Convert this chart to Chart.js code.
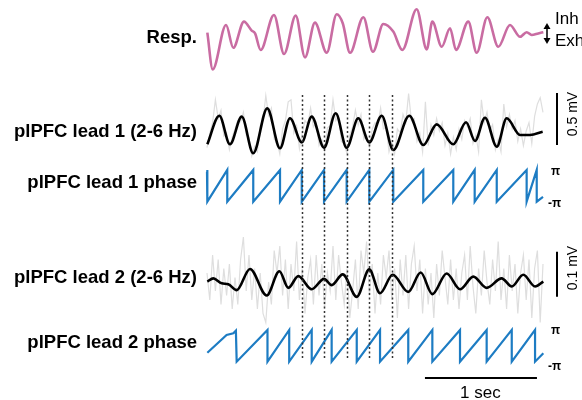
<!DOCTYPE html>
<html>
<head>
<meta charset="utf-8">
<script src="https://cdn.jsdelivr.net/npm/chart.js@4.4.1/dist/chart.umd.min.js"></script>
<style>
  body { margin: 0; background: #fff; }
  #wrap { position: relative; width: 582px; height: 400px; overflow: hidden;
          font-family: "Liberation Sans", Arial, sans-serif; color: #000; }
  #wrap canvas { position: absolute; left: 0; top: 0; }
  .lbl { position: absolute; right: 385px; font-weight: bold; font-size: 18.5px;
         line-height: 1; white-space: nowrap; transform: translateY(-50%); }
  .txt { position: absolute; font-size: 17px; line-height: 1; white-space: nowrap; }
  .pi { position: absolute; font-weight: bold; font-size: 12px; line-height: 1; }
  .rot { position: absolute; font-size: 14px; line-height: 1; white-space: nowrap;
         transform: translate(-50%, -50%) rotate(-90deg); }
</style>
</head>
<body>
<div id="wrap">
  <canvas id="myChart" width="582" height="400"></canvas>
  <div class="lbl" style="top:37px">Resp.</div>
  <div class="lbl" style="top:131px">plPFC lead 1 (2-6 Hz)</div>
  <div class="lbl" style="top:182px">plPFC lead 1 phase</div>
  <div class="lbl" style="top:277px">plPFC lead 2 (2-6 Hz)</div>
  <div class="lbl" style="top:342px">plPFC lead 2 phase</div>
  <div class="txt" style="left:555px;top:10px">Inh</div>
  <div class="txt" style="left:555px;top:32px">Exh</div>
  <div class="rot" style="left:572px;top:114px">0.5 mV</div>
  <div class="rot" style="left:572px;top:268px">0.1 mV</div>
  <div class="pi" style="left:551px;top:165px">π</div>
  <div class="pi" style="left:548px;top:197px">-π</div>
  <div class="pi" style="left:551px;top:324px">π</div>
  <div class="pi" style="left:548px;top:360px">-π</div>
  <div class="txt" style="left:460px;top:384px">1 sec</div>
</div>
<script>
// respiration (a.u.), extrema
const respT = [0.003, 0.051, 0.170, 0.235, 0.330, 0.399, 0.429, 0.479, 0.598, 0.688, 0.792, 0.875, 0.964,
  1.069, 1.158, 1.212, 1.277, 1.396, 1.482, 1.574, 1.663, 1.744, 1.872, 1.962, 2.012, 2.096, 2.170,
  2.223, 2.333, 2.408, 2.503, 2.601, 2.705, 2.795, 2.854, 2.899, 2.958, 3.003];
const respV = [0.02, -1.82, 0.40, -0.74, 0.57, 0.12, -0.02, -0.85, 0.90, -1.05, 0.87, -1.22, 0.52,
  -0.99, 0.94, 0.49, -0.99, 0.79, -0.94, 0.45, 0.07, -0.85, 1.19, -0.82, 0.57, -0.69, 0.24,
  -0.85, 0.57, -0.99, 0.79, -0.69, 0.40, -0.19, 0.04, -0.10, -0.02, 0.04];

// lead 1, 2-6 Hz filtered (mV)
const lead1T = [0.003, 0.110, 0.205, 0.310, 0.413, 0.538, 0.652, 0.741, 0.846, 0.935, 1.045, 1.149, 1.247,
  1.351, 1.449, 1.560, 1.663, 1.806, 1.931, 2.051, 2.199, 2.313, 2.393, 2.482, 2.587, 2.676, 2.795, 2.884, 2.997];
const lead1V = [-0.128, 0.147, -0.128, 0.138, -0.214, 0.218, -0.166, 0.122, -0.109, 0.138, -0.161, 0.170, -0.161,
  0.122, -0.109, 0.147, -0.183, 0.147, -0.135, 0.064, -0.128, 0.084, -0.096, 0.128, -0.151, 0.122, -0.038, -0.038, -0.007];

// raw traces (mV), one value every rawStep seconds
const rawStep = 0.025;
const lead1Raw = [
  -0.16, -0.02, 0.08, 0.30, 0.12, 0.20, -0.05, -0.02, -0.18, -0.06,
  0.02, 0.10, 0.09, 0.18, -0.04, -0.06, -0.24, -0.15, -0.20, 0.05,
  0.10, 0.34, 0.15, 0.22, -0.08, -0.10, -0.22, 0.02, 0.10, 0.28,
  0.30, -0.02, 0.05, -0.17, -0.02, 0.10, 0.06, 0.22, 0.04, 0.08,
  -0.14, -0.08, -0.20, 0.03, 0.05, 0.30, 0.10, 0.14, -0.10, -0.12,
  -0.22, -0.04, 0.04, 0.20, 0.06, 0.16, -0.08, -0.04, -0.16, 0.02,
  0.08, 0.06, 0.22, 0.02, 0.04, -0.20, -0.10, -0.22, 0.02, -0.02,
  0.16, 0.08, 0.36, 0.10, 0.12, -0.10, -0.02, -0.20, 0.28, -0.14,
  0.06, -0.04, 0.12, 0.00, 0.08, -0.14, -0.02, -0.22, -0.06, -0.18,
  0.02, -0.08, 0.10, 0.04, 0.12, -0.12, -0.04, -0.20, 0.30, 0.08,
  0.18, 0.00, 0.06, -0.18, -0.08, -0.20, 0.26, 0.04, 0.16, 0.02,
  0.10, -0.10, 0.02, -0.14, 0.00, 0.08, -0.12, 0.14, 0.26, 0.32,
  0.18];
const lead2Raw = [
  0.02, -0.04, 0.06, -0.02, 0.05, -0.05, 0.03, -0.03, 0.04, -0.06,
  0.01, -0.05, 0.05, 0.10, -0.02, 0.06, -0.04, 0.03, -0.06, 0.02,
  -0.07, -0.09, 0.00, -0.05, 0.07, 0.02, 0.08, -0.03, 0.05, -0.06,
  0.04, -0.02, 0.09, -0.04, 0.03, -0.07, 0.01, 0.05, -0.05, 0.06,
  -0.03, 0.04, -0.06, 0.02, -0.02, 0.08, -0.04, 0.06, 0.00, -0.05,
  0.03, -0.08, -0.02, 0.05, -0.06, 0.07, 0.02, 0.09, -0.03, 0.04,
  -0.07, 0.02, -0.05, 0.06, 0.01, 0.07, -0.04, 0.03, -0.08, 0.05,
  -0.03, 0.06, -0.06, 0.04, 0.08, -0.02, 0.05, -0.07, 0.03, -0.05,
  0.02, -0.08, 0.04, -0.03, 0.07, 0.01, -0.05, 0.05, -0.04, 0.03,
  -0.06, 0.02, 0.06, -0.04, 0.08, -0.01, -0.07, 0.03, -0.03, 0.07,
  0.00, -0.05, 0.05, -0.02, 0.09, -0.04, 0.03, -0.06, 0.06, -0.02,
  0.04, -0.07, 0.02, 0.06, -0.04, 0.05, -0.08, 0.03, 0.07, -0.09,
  0.04];

// lead 2, 2-6 Hz filtered (mV)
const lead2T = [0.003, 0.056, 0.131, 0.190, 0.265, 0.384, 0.533, 0.646, 0.726, 0.815, 0.935, 1.045, 1.113,
  1.212, 1.337, 1.449, 1.545, 1.658, 1.797, 1.908, 2.012, 2.140, 2.259, 2.378, 2.497, 2.631, 2.721, 2.824, 2.929, 3.003];
const lead2V = [0.001, 0.008, -0.003, -0.005, -0.018, 0.029, -0.030, 0.024, -0.013, 0.013, -0.016, 0.007, -0.007,
  0.017, -0.033, 0.028, -0.025, 0.016, -0.022, 0.021, -0.027, 0.019, -0.016, 0.012, -0.013, 0.008, -0.010, 0.016, -0.010, 0.001];

// phase: times (s) where the phase wraps from pi to -pi
const phase1Head = [[0.0, 2.8], [0.003, 3.14]];
const phase1Wraps = [0.003, 0.181, 0.413, 0.652, 0.846, 1.045, 1.247, 1.449, 1.663, 1.931, 2.199, 2.39, 2.587, 2.854, 2.944];
const phase1Tail = [[3.0, -2.2]];
const phase2Head = [[0.003, -1.37], [0.175, 2.14], [0.235, 2.48], [0.258, 3.0]];
const phase2Wraps = [0.265, 0.540, 0.734, 0.935, 1.113, 1.337, 1.545, 1.797, 2.012, 2.259, 2.497, 2.721, 2.929];
const phase2Tail = [[3.003, -1.49]];

// dashed reference lines
const markerTimes = [0.846, 1.045, 1.247, 1.449, 1.652];

function xy(ts, vs) {
  let pts = [];
  for (let i = 0; i < ts.length; i++) pts.push({ x: ts[i], y: vs[i] });
  return pts;
}
function rawPts(vs) {
  let pts = [];
  for (let i = 0; i < vs.length; i++) pts.push({ x: i * rawStep, y: vs[i] });
  return pts;
}
function phasePts(head, wraps, tail) {
  let pts = head.map(p => ({ x: p[0], y: p[1] }));
  wraps.forEach((w, i) => {
    if (i > 0) pts.push({ x: w, y: Math.PI });
    pts.push({ x: w, y: -Math.PI });
  });
  tail.forEach(p => pts.push({ x: p[0], y: p[1] }));
  return pts;
}

// layout: each trace gets its own hidden y axis over the full canvas height
const H = 400, W = 582, left = 207, pxPerSec = 112;
function band(center, pxPerUnit) {
  return { display: false, min: -(H - center) / pxPerUnit, max: center / pxPerUnit };
}

const overlay = {
  id: "overlay",
  afterDatasetsDraw(chart) {
    const c = chart.ctx, x = chart.scales.x;
    c.save();
    // dashed lines
    c.strokeStyle = "#333";
    c.lineWidth = 1.5;
    c.setLineDash([2, 2.5]);
    markerTimes.forEach(t => {
      const px = Math.round(x.getPixelForValue(t)) + 0.5;
      c.beginPath(); c.moveTo(px, 95); c.lineTo(px, 360); c.stroke();
    });
    c.setLineDash([]);
    c.strokeStyle = "#000";
    c.lineWidth = 2;
    // 1 sec bar
    c.beginPath();
    c.moveTo(x.getPixelForValue(1.946), 378);
    c.lineTo(x.getPixelForValue(2.946), 378);
    c.stroke();
    // 0.5 mV and 0.1 mV bars
    const bx = x.getPixelForValue(3.125);
    const y1 = chart.scales.yL1, y2 = chart.scales.yL2;
    c.beginPath(); c.moveTo(bx, y1.getPixelForValue(0.365)); c.lineTo(bx, y1.getPixelForValue(-0.135)); c.stroke();
    c.beginPath(); c.moveTo(bx, y2.getPixelForValue(0.067)); c.lineTo(bx, y2.getPixelForValue(-0.033)); c.stroke();
    // inh/exh double arrow
    c.lineWidth = 1.5;
    c.beginPath(); c.moveTo(547, 26); c.lineTo(547, 41); c.stroke();
    c.fillStyle = "#000";
    c.beginPath(); c.moveTo(543.5, 29); c.lineTo(547, 23); c.lineTo(550.5, 29); c.fill();
    c.beginPath(); c.moveTo(543.5, 38); c.lineTo(547, 44); c.lineTo(550.5, 38); c.fill();
    c.restore();
  }
};

// lower order is drawn on top
const smooth = { pointRadius: 0, cubicInterpolationMode: "monotone", borderWidth: 2.6, order: 1 };
const straight = { pointRadius: 0, tension: 0, order: 1 };
const raw = { pointRadius: 0, tension: 0, borderColor: "#dedede", borderWidth: 1.2, order: 2 };

new Chart(document.getElementById("myChart"), {
  type: "line",
  data: {
    datasets: [
      { ...smooth, data: xy(respT, respV), borderColor: "#c96ca2", yAxisID: "yR" },
      { ...raw, data: rawPts(lead1Raw), yAxisID: "yL1" },
      { ...smooth, data: xy(lead1T, lead1V), borderColor: "#000", yAxisID: "yL1" },
      { ...straight, data: phasePts(phase1Head, phase1Wraps, phase1Tail), borderColor: "#1d7cc3", borderWidth: 2.2, yAxisID: "yP1" },
      { ...raw, data: rawPts(lead2Raw), yAxisID: "yL2" },
      { ...smooth, data: xy(lead2T, lead2V), borderColor: "#000", yAxisID: "yL2" },
      { ...straight, data: phasePts(phase2Head, phase2Wraps, phase2Tail), borderColor: "#1d7cc3", borderWidth: 2.2, yAxisID: "yP2" }
    ]
  },
  options: {
    responsive: false,
    animation: false,
    layout: { padding: 0 },
    plugins: { legend: { display: false }, tooltip: { enabled: false } },
    scales: {
      x: { type: "linear", display: false, min: -left / pxPerSec, max: (W - left) / pxPerSec },
      yR: band(33, 20),
      yL1: band(131, 104),
      yP1: band(185.8, 5.05),
      yL2: band(282, 450),
      yP2: band(345.8, 5.05)
    }
  },
  plugins: [overlay]
});
</script>
</body>
</html>
